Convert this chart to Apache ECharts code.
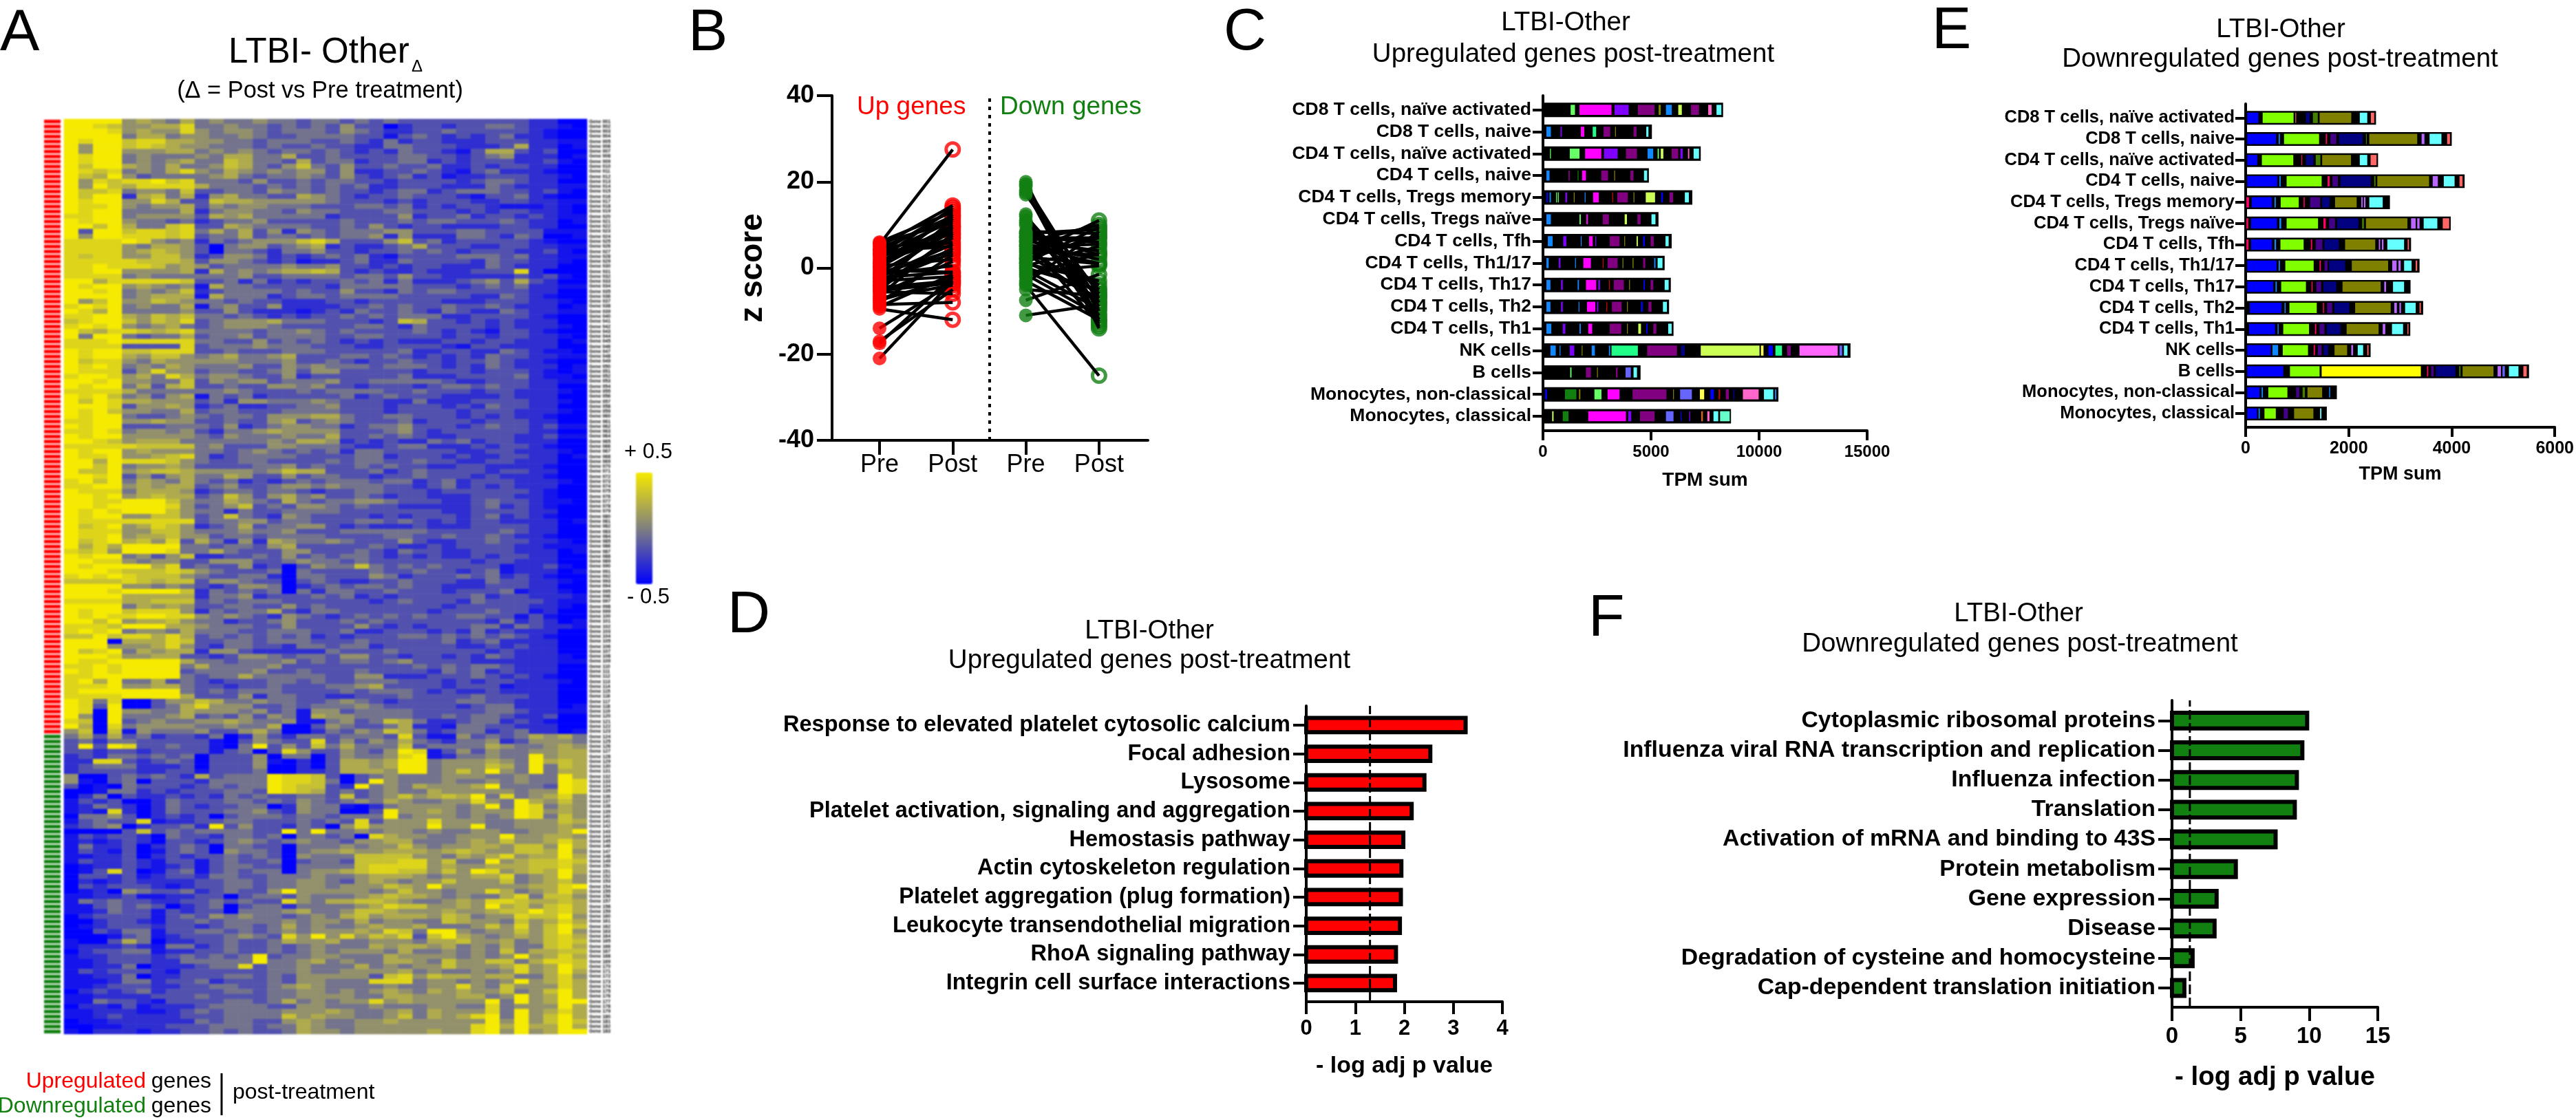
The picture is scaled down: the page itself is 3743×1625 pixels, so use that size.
<!DOCTYPE html>
<html><head><meta charset="utf-8">
<style>html,body{margin:0;background:#fff}#a,#c{position:absolute;left:0;top:0;width:3743px;height:1625px}#a{filter:blur(1.2px)}</style>
<script src="https://cdn.jsdelivr.net/npm/echarts@6/dist/echarts.min.js"></script>
</head><body><div id="a"></div><div id="c"></div>
<script>
// Panel A: estimated cell levels, 0 (blue) to 9 (yellow), one string per gene, one digit per sample
const heatUp = [
"9999 56546 4544544 344343433 33333332 200","9987 55668 4454434 343533023 32334432 210","9998 56558 5455434 443543223 34333332 100","9999 46645 5445433 444433134 32323422 100",
"9899 78866 5544344 433432423 32223332 211","9599 78765 5444343 343322443 33222362 201","9599 55566 4545434 434323243 32136632 300","9899 45444 5466446 334333344 33234522 201",
"9899 45456 4476443 634423344 23233322 310","9799 65464 4576435 743533433 42232332 200","9878 45468 5465454 553522334 32134222 100","9769 53444 4564344 543532342 31223332 210",
"9587 88978 4443533 434433233 33234432 200","9597 68888 6444343 434342233 32224322 211","9778 45547 3344354 434332344 23444332 310","9799 26746 2564433 654323343 33213342 100",
"9899 55863 3766555 554333232 33322332 211","9889 54556 3545544 433344342 32332111 210","9899 44446 2455443 544333443 33232332 210","8899 45555 3656444 442333352 33423323 211",
"9899 54434 2344533 333433343 44333432 201","9979 64478 3365444 433435323 32222332 200","9399 78878 4646352 543444553 33443333 111","9599 88878 3446344 343445252 22443243 001",
"8888 98545 2434555 786333573 42333332 100","8888 54665 3045534 562322346 33322332 211","8888 56765 3044324 453323343 43233322 310","8788 55775 2355423 234342133 33444342 211",
"8888 87776 3554323 122342243 33324332 210","8898 88756 5344445 445332323 32224322 200","8899 55556 2645456 676323223 22233382 000","8888 45444 4445334 444344353 32222232 310",
"9968 88887 3342423 233434242 22345363 200","9899 56545 1644333 332444443 33234342 211","9989 45457 2344443 433533243 44333332 200","9999 45666 1644423 443444433 33322432 100",
"9579 55765 4434332 223323333 32223332 210","8989 45446 1453352 222334343 34334322 201","9869 44445 3353222 123243343 24322432 211","8899 65767 4434323 233434344 42233332 100",
"7899 75768 3455564 443332376 33232322 200","8989 54564 3455543 333344324 33332322 210","9768 87678 4444344 543433334 32321332 100","9499 43446 3445344 443344333 32332332 210",
"8889 88888 4433534 343232322 23323322 201","8888 33338 3444544 433322333 32133222 200","9899 77888 3343334 443333342 23322432 110","9899 65775 4564456 333443432 32324332 211",
"9788 54655 5554445 334323343 32334322 100","9898 45465 4445335 454443444 32324322 201","9888 35855 3443345 355333332 33323332 101","8998 56486 4554335 233333342 22333342 110",
"9989 55447 3545534 445334444 43223332 211","9899 46367 3343355 453323332 34434332 200","8888 64444 4454333 434444334 33323322 210","9897 45356 1434233 333423433 32222322 200",
"9798 66555 3425544 454333224 22233332 210","9998 35565 2342233 445333233 32324332 200","9897 55446 3443334 444333233 33233322 210","9899 43345 4344355 566433443 33232322 100",
"8899 55655 3343356 345433342 33323332 200","9899 33344 4352345 544234453 33234332 311","8898 45545 3244565 555333453 23333332 200","9899 55555 4354445 446334343 22333322 311",
"9987 56664 4444454 665232322 43423322 200","8888 87777 4533355 444322344 22232332 100","9899 56555 4434543 434244333 33223322 210","9889 55678 4234444 333344233 32322332 201",
"9969 88875 4334433 334344334 33223322 200","9979 45565 3333445 343343433 22332222 100","9779 56776 5555457 663334234 33332332 200","9989 35356 4465335 344332334 33323222 100",
"8979 46546 4342323 434443442 34233322 210","8899 56566 3453345 545444332 34232322 200","9888 46665 2344344 323344333 23333332 100","9989 56766 3475356 453343233 22233322 100",
"9988 99975 4465436 434455433 32234332 110","9989 99985 3457343 554343322 22234232 100","9898 99975 4424334 444333333 32233332 200","9899 55775 3474325 433332323 33234232 100",
"9888 88888 3445534 433344343 23233222 201","9789 56875 2346344 553232223 22233332 200","9888 55775 4445445 333444444 33333432 200","9889 56675 5344344 443333443 34334322 100",
"9789 67583 6425265 445433353 22334332 210","9686 99994 4344356 333334322 32333322 111","8785 99984 4643335 533343243 32233322 201","9899 45357 2233435 343443232 32232332 200",
"9988 54553 3555334 544343333 33323322 200","9899 99683 4335230 354474343 43333122 310","9998 77787 5433340 433334334 33234122 201","8989 87775 4334420 443335423 33434232 100",
"7777 87677 3554330 343223343 33224332 210","9999 55454 3235540 234344343 32223332 200","9998 99997 2434340 424433433 32333412 210","9999 66666 2445233 343423233 33342332 221",
"8888 66777 3434443 333332343 33243333 211","9999 46565 3344335 343333333 32333332 210","9899 78885 2434463 244333333 23334331 200","9898 89988 5454325 432343434 33443313 100",
"9979 56675 4423345 333434333 33332423 201","8887 99966 5444335 333353232 33344243 221","8989 45546 4443344 433422333 23242322 200","7797 88686 3434343 423233344 34343432 100",
"9990 66687 3344344 433343333 34234222 200","9995 55685 3244332 443442333 33223232 200","9789 46566 2553222 224333433 33332322 200","9998 55663 3235543 443553323 32324322 210",
"9889 99996 4434445 343443453 33322222 211","8898 99994 6444453 333333334 34344322 200","9898 99993 4444533 433343333 24342322 200","8899 99994 3446444 443355222 33343232 100",
"8969 44634 3233344 343344433 32323322 210","8889 55664 3323343 334456333 32333122 200","8999 99994 3434443 333434443 23223222 200","8888 99996 3335244 332233343 33343332 200",
"9848 00355 7644544 334543233 33443322 200","9839 00346 8555334 344454333 33234422 201","9809 55446 5554534 155344443 33334432 211","9509 44456 3435354 165544443 34344322 300",
"8709 34544 5565445 114534764 22344232 100","9608 45555 4454460 035433462 21443322 200","5707 15444 5335640 024354764 23442342 201"
];
const heatDown = [
"4636 34233 2402532 443444383 11534346 564","3424 43333 3103543 383535464 32445235 554","3939 83343 3104935 374644473 44446544 565","3323 32333 3134038 533543598 13535445 566",
"2324 43434 0333504 403544589 12445449 566","2288 32343 0333510 203665699 45556549 676","2344 42223 0333500 203665699 45557649 476","2333 32233 1333400 223666599 45759549 466",
"5003 43432 6344498 873034544 45554454 496","5103 40333 2444498 874039544 45445454 498","3010 43332 3434498 773294546 55569444 398","0014 42323 3344398 763434544 65555545 598",
"0240 32232 3243433 443734575 67694845 685","1323 00243 3344343 543454654 45585496 575","1243 20243 2334402 544102455 55459498 465","1218 20243 3344532 544003955 65455598 565",
"0445 30232 3034443 443444945 55454598 475","1343 38122 3344333 434383555 85554455 576","2345 02334 2935332 430585555 95594455 565","0000 37343 4444339 494454554 54455445 569",
"1323 32043 3244340 443408655 44555955 665","1212 32033 2345434 544355664 44565755 686","1422 30234 3044330 444545575 45566577 596","1321 30134 3054430 455655666 56765577 695",
"1122 30232 3343430 544477775 54656856 696","1322 32133 1343340 344377788 57449567 787","0122 32123 1344330 444478888 56556667 786","0138 30134 1343440 455678877 57598567 696",
"0332 31233 2443344 454456665 45566845 695","0212 32222 3344344 554356545 57555745 675","0323 33212 3344344 554555765 95555556 689","0120 54334 2343359 555554575 54558645 686",
"1122 31122 3303443 544456766 54544684 775","1434 33223 3434338 546677654 45658876 676","1134 34302 3403442 444456877 55659675 786","1124 33132 3304445 644577655 56556779 786",
"0233 33134 3545443 454675666 57645587 795","0023 32133 4344445 455464554 47655475 686","0123 33233 2344346 454456556 44457585 797","0032 44133 4434345 455565874 99545575 795",
"0001 34123 3345438 595857683 79654565 786","1003 64022 3343346 556445554 66755645 787","1222 32144 2343343 454446566 56454644 786","0233 44122 3343343 454555464 45454746 677",
"1223 33234 3434934 455444655 55454595 686","1123 33224 4444944 564544665 47557746 887","1122 40222 3448344 544464545 57555685 697","1323 33213 3333344 544555564 54454585 696",
"1122 40223 3344343 555553785 76656644 685","1112 44233 4233343 554448884 55454595 686","1123 33223 3443345 654444544 55854755 586","0232 34233 3344344 554545654 65655745 796",
"1122 22333 4333344 555544665 55664595 696","1143 32133 3344346 454558565 55559495 699","0221 31222 3444433 554445444 55448455 596","1122 21123 4344445 556544564 65558495 686",
"1123 22223 3344447 565544574 65689495 796","0112 22222 4344335 654455655 55559595 797","0011 22233 3444344 654455555 55589696 696","1022 21223 3434334 655455555 65589595 699"
];
// Panel A: what each digit level stands for on the -0.5 to +0.5 scale
const heatLevels = [-0.5,-0.42,-0.32,-0.18,-0.05,0.08,0.2,0.3,0.4,0.5];
const heatLabels = [...heatUp, ...heatDown].map((_, i) => "Gene " + String(i + 1).padStart(3, "0"));

// Panel B: z scores, one pre/post pair per position
const upPre  = [6,5.8,5.5,5,4.5,4.2,4,3.5,3.2,3,2.5,2,1.5,1.2,1,0.5,0.2,0,-0.5,-1,-1.2,-1.5,-2,-2.2,-2.5,-3,-3.2,-3.5,-4,-4.2,-4.5,-5,-5.2,-5.5,-6,-6.5,-7,-7.5,-8,-8.5,-9,-9.5,-14,-17,-17.5,-21];
const upPost = [13,10.5,27.5,14.5,12,8,5,13.5,6,11,9,14,7,12,10,2,9.5,12.5,-1,8.5,4,0.5,5.5,-1,9.5,-2,3.5,4.5,11.5,7,-3,7.5,-3.5,-6,1.5,8,-4,-2.5,3,-8,-1.5,-12,-3.5,-5,-2,-3];
const downPre  = [20,19.5,19,18,17.5,17,12.5,12,11,10.5,10,8.5,8.2,8,7.5,7.2,7,6.5,6.2,6,5.5,5.2,5,4.5,4,3.5,3,2.5,2.2,2,1.5,1.2,1,0.5,0,-0.5,-1,-1.5,-2,-3,-3.5,-4,-5,-7.5,-11];
const downPost = [-14,-12,-8,-13.5,-10,-6,-12.5,-7,-11,-5,-9,8,3,9,-4,6,7,-13,4,10,2,1,5.5,-6,3,-8,11,1,7,7.5,-7,9.5,-3,5,-5,-9.5,0.5,-11,3.5,-12,8.5,-25,-6.5,-1.5,-8.5];
const prePostLabels = ["Pre","Post","Pre","Post"];

// Panels C and E: TPM sum per cell type, with the visible coloured stack blocks [from, to, colour key]
const cellTypes = ["CD8 T cells, naïve activated","CD8 T cells, naive","CD4 T cells, naïve activated","CD4 T cells, naive","CD4 T cells, Tregs memory","CD4 T cells, Tregs naïve","CD4 T cells, Tfh","CD4 T cells, Th1/17","CD4 T cells, Th17","CD4 T cells, Th2","CD4 T cells, Th1","NK cells","B cells","Monocytes, non-classical","Monocytes, classical"];
const upTotals = [8335,5040,7300,4900,6910,5345,5955,5630,5915,5835,6040,14230,4515,10895,8700];
const upBlocks = [
 [[1280,1480,"lm"],[1690,3170,"mg"],[3310,3965,"pu"],[4390,5165,"dm"],[5350,5450,"ol"],[5690,5960,"sk"],[6260,6425,"yg"],[6850,7220,"dm"],[7645,7805,"pk"],[8030,8255,"cy"]],
 [[160,365,"sk"],[810,870,"pu"],[1750,1910,"mg"],[2300,2460,"sg"],[2805,3110,"dm"],[3335,3375,"ol"],[4190,4330,"dm"],[4780,4880,"cy"]],
 [[325,365,"lm"],[1240,1690,"lm"],[1950,2700,"mg"],[2825,3455,"pu"],[3840,4350,"dm"],[4840,5100,"sk"],[5305,5365,"lm"],[5450,5570,"yg"],[5955,6260,"dm"],[6360,6465,"pu"],[6710,6770,"pk"],[6970,7220,"cy"]],
 [[160,305,"sk"],[1180,1240,"dm"],[1605,1645,"gr"],[1810,1990,"mg"],[2700,3010,"dm"],[3295,3335,"ol"],[4045,4190,"dm"],[4675,4820,"cy"]],
 [[160,225,"bl"],[305,365,"sk"],[610,650,"lm"],[690,730,"lm"],[1035,1115,"pu"],[1425,1465,"ol"],[1930,1970,"sk"],[2320,2580,"mg"],[3210,3250,"rd"],[3435,3925,"dm"],[4190,4230,"ol"],[4755,5185,"yg"],[5470,5550,"bl"],[5855,6020,"dm"],[6565,6750,"cy"]],
 [[160,365,"sk"],[1690,1750,"lm"],[2010,2075,"mg"],[2765,3050,"dm"],[3780,3885,"yg"],[4370,4515,"dm"],[5020,5205,"cy"]],
 [[225,445,"sk"],[935,1080,"pu"],[1750,1790,"sk"],[2135,2300,"mg"],[2420,2460,"pu"],[3090,3540,"dm"],[3760,3800,"ol"],[4330,4390,"yg"],[4635,4715,"bl"],[4980,5125,"dm"],[5670,5815,"cy"]],
 [[160,265,"sk"],[730,810,"pu"],[1485,1525,"sk"],[1870,2215,"mg"],[2765,2805,"rd"],[2990,3455,"dm"],[3680,3720,"ol"],[4145,4190,"ol"],[4635,4735,"dm"],[5145,5205,"sk"],[5305,5530,"cy"]],
 [[160,345,"sk"],[835,915,"pu"],[1605,1665,"sk"],[1990,2460,"mg"],[2560,2640,"pu"],[3050,3090,"rd"],[3275,3740,"dm"],[3985,4025,"ol"],[4655,4715,"bl"],[4980,5105,"dm"],[5630,5815,"cy"]],
 [[160,345,"sk"],[835,915,"pu"],[1645,1685,"sk"],[2035,2420,"mg"],[2500,2560,"pu"],[2930,2970,"rd"],[3190,3640,"dm"],[3885,3925,"ol"],[4535,4615,"bl"],[4880,5020,"dm"],[5550,5735,"cy"]],
 [[160,385,"sk"],[915,1035,"pu"],[1690,1750,"sk"],[2095,2275,"mg"],[3090,3620,"dm"],[3885,3925,"ol"],[4410,4535,"yg"],[4780,4840,"bl"],[5105,5245,"dm"],[5795,5955,"cy"]],
 [[345,590,"sk"],[770,810,"sk"],[1240,1445,"pu"],[1790,1830,"ol"],[2255,2400,"sk"],[3050,3110,"sk"],[3170,4390,"sg"],[4820,6200,"dm"],[6385,6565,"nv"],[7300,10020,"yg"],[10085,10205,"ye"],[10430,10635,"bl"],[10755,11060,"sg"],[11300,11465,"dm"],[11870,13640,"pn"],[13720,13845,"pw"],[13925,14090,"cy"]],
 [[1260,1320,"lm"],[1990,2215,"dm"],[2500,2540,"ol"],[3375,3455,"dm"],[3820,4065,"pw"],[4190,4350,"cy"]],
 [[100,185,"bl"],[1015,1545,"gr"],[1665,1730,"ol"],[2380,2705,"lm"],[2990,3540,"mg"],[4145,5715,"dm"],[6020,6060,"ol"],[6345,6890,"pw"],[7260,7460,"ye"],[7745,7910,"bl"],[8130,8195,"rd"],[8460,8600,"dm"],[8805,8865,"nv"],[9250,9980,"pk"],[10225,10655,"cy"],[10735,10795,"sk"]],
 [[425,490,"yg"],[915,1180,"gr"],[2095,3840,"mg"],[3945,4085,"pu"],[4490,5165,"dm"],[5690,6040,"pw"],[6365,6405,"bl"],[6770,6810,"pu"],[7320,7400,"or"],[7605,7705,"pk"],[7890,8110,"cy"],[8195,8640,"mt"]]
];
const downTotals = [2530,4000,2570,4250,2800,3980,3210,3375,3200,3445,3195,2425,5500,1770,1575];
const downBlocks = [
 [[30,245,"bl"],[330,930,"ll"],[965,980,"sa"],[1170,1240,"nv"],[1305,1400,"eg"],[1435,2050,"ol"],[2215,2360,"cy"],[2430,2495,"sa"]],
 [[30,590,"bl"],[640,665,"sk"],[745,1425,"ll"],[1555,1580,"cr"],[1645,1760,"dp"],[1810,2270,"nv"],[2335,2350,"eg"],[2400,3330,"ol"],[3415,3470,"vi"],[3570,3800,"cy"],[3910,3965,"sa"]],
 [[30,225,"bl"],[315,925,"ll"],[1080,1095,"cr"],[1170,1315,"nv"],[1360,1450,"eg"],[1485,2045,"ol"],[2215,2360,"cy"],[2425,2540,"sa"]],
 [[30,615,"bl"],[655,680,"sk"],[795,1475,"ll"],[1590,1630,"cr"],[1685,1790,"dp"],[1840,2425,"nv"],[2495,2520,"eg"],[2555,3560,"ol"],[3630,3730,"vi"],[3845,4055,"cy"],[4150,4210,"sa"]],
 [[15,65,"cr"],[115,510,"bl"],[560,585,"sk"],[680,1030,"ll"],[1125,1145,"cr"],[1250,1445,"dp"],[1485,1630,"nv"],[1735,2155,"ol"],[2245,2270,"vi"],[2295,2325,"vi"],[2400,2660,"cy"]],
 [[15,50,"cr"],[105,610,"bl"],[655,690,"sk"],[795,1405,"ll"],[1510,1555,"cr"],[1620,1735,"dp"],[1775,2190,"nv"],[2260,2295,"eg"],[2335,3140,"ol"],[3210,3300,"vi"],[3330,3375,"vi"],[3455,3720,"cy"],[3825,3950,"sa"]],
 [[15,55,"cr"],[105,510,"bl"],[560,590,"sk"],[675,1125,"ll"],[1265,1290,"cr"],[1360,1490,"dp"],[1525,1810,"nv"],[1930,2515,"ol"],[2585,2610,"vi"],[2645,2675,"vi"],[2750,3075,"cy"],[3145,3170,"sa"]],
 [[30,600,"bl"],[640,665,"sk"],[770,1320,"ll"],[1435,1460,"cr"],[1530,1590,"dp"],[1620,1930,"nv"],[2060,2765,"ol"],[2845,2930,"vi"],[2965,3010,"vi"],[3075,3220,"cy"],[3300,3330,"sa"]],
 [[30,535,"bl"],[580,605,"sk"],[690,1170,"ll"],[1280,1300,"cr"],[1370,1465,"dp"],[1510,1760,"nv"],[1880,2620,"ol"],[2690,2725,"vi"],[2860,3075,"cy"]],
 [[80,695,"bl"],[755,775,"sk"],[850,1380,"ll"],[1500,1520,"cr"],[1580,1680,"dp"],[1720,2010,"nv"],[2125,2815,"ol"],[2885,2935,"vi"],[2985,3015,"vi"],[3095,3300,"cy"],[3375,3400,"sa"]],
 [[65,570,"bl"],[620,640,"sk"],[730,1230,"ll"],[1345,1370,"cr"],[1435,1530,"dp"],[1575,1840,"nv"],[1960,2580,"ol"],[2660,2710,"vi"],[2840,3055,"cy"],[3140,3160,"sa"]],
 [[30,485,"bl"],[520,630,"sk"],[720,1210,"ll"],[1320,1345,"cr"],[1400,1475,"dp"],[1515,1600,"nv"],[1725,1970,"ol"],[2050,2085,"vi"],[2175,2280,"cy"],[2360,2385,"sa"]],
 [[30,730,"bl"],[860,1435,"ll"],[1475,3400,"yy"],[3520,3545,"cr"],[3600,3650,"dp"],[3690,4070,"nv"],[4145,4170,"eg"],[4210,4810,"ol"],[4890,4955,"vi"],[4985,5030,"pw"],[5110,5295,"cy"],[5390,5455,"sa"]],
 [[30,270,"bl"],[310,335,"sk"],[440,810,"ll"],[980,1040,"dp"],[1105,1150,"eg"],[1200,1485,"ol"],[1620,1640,"sk"]],
 [[30,220,"bl"],[250,275,"sk"],[365,585,"ll"],[740,820,"dp"],[940,1315,"ol"],[1445,1470,"cy"]]
];

// Panels D and F: pathway enrichment
const upPathways = ["Response to elevated platelet cytosolic calcium","Focal adhesion","Lysosome","Platelet activation, signaling and aggregation","Hemostasis pathway","Actin cytoskeleton regulation","Platelet aggregation (plug formation)","Leukocyte transendothelial migration","RhoA signaling pathway","Integrin cell surface interactions"];
const upLogP = [3.25,2.53,2.41,2.15,1.98,1.94,1.93,1.91,1.83,1.81];
const upThreshold = 1.3;
const downPathways = ["Cytoplasmic ribosomal proteins","Influenza viral RNA transcription and replication","Influenza infection","Translation","Activation of mRNA and binding to 43S","Protein metabolism","Gene expression","Disease","Degradation of cysteine and homocysteine","Cap-dependent translation initiation"];
const downLogP = [9.85,9.5,9.1,8.95,7.55,4.65,3.25,3.1,1.5,0.9];
const downThreshold = 1.3;

const RED = "#ff0000", GREEN = "#118011", FONT = "Liberation Sans";
const palette = {bl:"#0000ff",sk:"#1188ff",lm:"#66ff66",mg:"#ff00ff",pu:"#8000ff",dm:"#800080",ol:"#808000",yg:"#ccff55",pk:"#ff66cc",cy:"#66ffff",gr:"#118011",sg:"#22ff88",rd:"#cc0000",pw:"#6666ff",ye:"#ffff55",nv:"#000080",or:"#cc6622",mt:"#66ffcc",pn:"#ff66ff",ll:"#80ff00",yy:"#ffff00",vi:"#bb66ff",sa:"#ff6666",cr:"#ff0066",dp:"#440088",eg:"#448000"};

const axisLine = w => ({show:true,onZero:false,lineStyle:{color:"#000",width:w}});

function xVal(gridIndex,max,interval,name,fs,margin,nameFs,nameGap,tick){
  return {type:"value",gridIndex,min:0,max,interval,name,nameLocation:"middle",nameGap,
    nameTextStyle:{fontSize:nameFs,fontWeight:"bold",color:"#000",fontFamily:FONT},
    axisLine:axisLine(4),axisTick:{show:true,length:tick,lineStyle:{color:"#000",width:4}},
    splitLine:{show:false},axisLabel:{fontSize:fs,fontWeight:"bold",color:"#000",margin,fontFamily:FONT,formatter:v=>String(v)}};
}
function yCat(gridIndex,cats,minV,maxV,fs,margin,tick){
  const n = cats.length, vals = cats.map((_,i)=>i);
  return {type:"value",gridIndex,min:minV,max:maxV,
    axisLine:axisLine(4),splitLine:{show:false},
    axisTick:{show:true,length:tick,customValues:vals,lineStyle:{color:"#000",width:4}},
    axisLabel:{fontSize:fs,fontWeight:"bold",color:"#000",margin,fontFamily:FONT,customValues:vals,formatter:v=>cats[n-1-Math.round(v)]}};
}
function rectSeries(idx,data,frac,styleOf,z){
  return {type:"custom",xAxisIndex:idx,yAxisIndex:idx,z,silent:true,clip:false,data:data.map(d=>[d.y,d.a,d.b]),
    encode:{x:[1,2],y:0},
    renderItem:(p,api)=>{
      const y=api.value(0),s=api.coord([api.value(1),y]),e=api.coord([api.value(2),y]),h=api.size([0,1])[1]*frac;
      return {type:"rect",shape:{x:s[0],y:s[1]-h/2,width:e[0]-s[0],height:h},style:styleOf(data[p.dataIndex])};
    }};
}
function stacked(idx,totals,blocks,outer,inner){
  const n=totals.length;
  const back=totals.map((t,i)=>({y:n-1-i,a:0,b:t}));
  const front=[];blocks.forEach((r,i)=>r.forEach(b=>front.push({y:n-1-i,a:b[0],b:b[1],c:b[2]})));
  return [rectSeries(idx,back,outer,()=>({fill:"#000"}),2),rectSeries(idx,front,inner,d=>({fill:palette[d.c]}),3)];
}
function enrich(idx,vals,color,frac){
  const n=vals.length;
  return rectSeries(idx,vals.map((v,i)=>({y:n-1-i,a:0,b:v})),frac,()=>({fill:color,stroke:"#000",lineWidth:6}),2);
}
function thresh(idx,v,lo,hi){
  return {type:"line",xAxisIndex:idx,yAxisIndex:idx,z:5,silent:true,showSymbol:false,data:[[v,lo],[v,hi]],lineStyle:{color:"#000",width:3,type:[14,5]}};
}
const txt=(text,x,y,size,o={})=>({type:"text",silent:true,style:Object.assign({text,x,y,fill:"#000",font:`${o.weight||"normal"} ${size}px "${FONT}"`,textAlign:o.align||"left",textVerticalAlign:"middle"},o.color?{fill:o.color}:{})});

const heatData=[];
[...heatUp,...heatDown].forEach((row,r)=>row.replace(/ /g,"").split("").forEach((d,c)=>heatData.push([c,r,heatLevels[+d]])));
const nCols=heatUp[0].replace(/ /g,"").length;

const pairLines=(pre,post,off)=>pre.map((v,i)=>({type:"line",xAxisIndex:0,yAxisIndex:0,z:3,silent:true,showSymbol:false,data:[[off,v],[off+1,post[i]]],lineStyle:{color:"#000",width:4.5}}));
const dots=(vals,x,color,hollow)=>({type:"scatter",xAxisIndex:0,yAxisIndex:0,z:hollow?2:4,silent:true,symbol:"circle",symbolSize:hollow?19:20,
  data:vals.map(v=>[x,v]),itemStyle:hollow?{color:"rgba(255,255,255,0)",borderColor:color,borderWidth:5}:{color}});

const heatOption={
  animation:false,textStyle:{fontFamily:FONT},
  grid:[{left:93,top:173,width:760,height:1330},{left:64,top:173,width:24,height:1330}],
  visualMap:{type:"continuous",seriesIndex:0,dimension:2,min:-0.5,max:0.5,calculable:false,left:909,top:672,itemWidth:24,itemHeight:162,showLabel:false,
    inRange:{color:["#0000ff","#808080","#f5ea00"]},textStyle:{fontSize:1,color:"transparent"}},
  xAxis:[
    {type:"category",gridIndex:0,show:false,data:Array.from({length:nCols},(_,i)=>i)},
    {type:"value",gridIndex:1,show:false,min:0,max:1}
  ],
  yAxis:[
    {type:"category",gridIndex:0,inverse:true,position:"right",data:heatLabels,axisLine:{show:false},axisTick:{show:false},
      axisLabel:{interval:0,fontSize:7,fontWeight:"bold",margin:3,color:"#000",fontFamily:FONT}},
    {type:"category",gridIndex:1,inverse:true,show:false,data:heatLabels}
  ],
  series:[
    {type:"heatmap",xAxisIndex:0,yAxisIndex:0,data:heatData,progressive:0,silent:true,emphasis:{disabled:true}},
    {type:"bar",xAxisIndex:1,yAxisIndex:1,silent:true,barCategoryGap:"28%",barGap:"-100%",itemStyle:{color:RED},data:[...heatUp.map(()=>1),...heatDown.map(()=>"-")]},
    {type:"bar",xAxisIndex:1,yAxisIndex:1,silent:true,barCategoryGap:"28%",barGap:"-100%",itemStyle:{color:GREEN},data:[...heatUp.map(()=>"-"),...heatDown.map(()=>1)]}
  ]
};

const option={
  animation:false,backgroundColor:"transparent",textStyle:{fontFamily:FONT},
  grid:[
    {left:1209,top:139,width:459,height:501},
    {left:2242,top:139,width:471,height:487},
    {left:3263,top:151,width:453,height:470},
    {left:1898,top:1026,width:285,height:430},
    {left:3156,top:1018,width:299,height:446}
  ],
  xAxis:[
    {type:"value",gridIndex:0,min:-0.649,max:3.669,axisLine:axisLine(4),splitLine:{show:false},
      axisTick:{show:true,length:21,customValues:[0,1,2,3],lineStyle:{color:"#000",width:4}},
      axisLabel:{fontSize:36,color:"#000",margin:18,fontFamily:FONT,customValues:[0,1,2,3],formatter:v=>prePostLabels[Math.round(v)]}},
    xVal(1,15000,5000,"TPM sum",24,19,28,58,14),
    xVal(2,6000,2000,"TPM sum",25,19,27,55,14),
    xVal(3,4,1,"- log adj p value",31,24,34,77,18),
    xVal(4,15,5,"- log adj p value",33,26,38.5,83,20)
  ],
  yAxis:[
    {type:"value",gridIndex:0,min:-40,max:40,interval:20,name:"z score",nameLocation:"middle",nameGap:92,nameRotate:90,
      nameTextStyle:{fontSize:46,fontWeight:"bold",color:"#000",fontFamily:FONT},
      axisLine:axisLine(4),splitLine:{show:false},axisTick:{show:true,length:22,lineStyle:{color:"#000",width:4}},
      axisLabel:{fontSize:36,fontWeight:"bold",color:"#000",margin:26,fontFamily:FONT}},
    yCat(1,cellTypes,-0.66,14.65,26.5,17,15),
    yCat(2,cellTypes,-0.65,14.66,25.5,16,15),
    yCat(3,upPathways,-0.65,9.67,32.5,23,19),
    yCat(4,downPathways,-0.65,9.68,33.8,24,20)
  ],
  series:[
    ...pairLines(upPre,upPost,0),...pairLines(downPre,downPost,2),
    dots(upPre,0,RED,false),dots(upPost,1,RED,true),dots(downPre,2,GREEN,false),dots(downPost,3,GREEN,true),
    {type:"line",xAxisIndex:0,yAxisIndex:0,z:3,silent:true,showSymbol:false,data:[[1.505,-40],[1.505,40]],lineStyle:{color:"#000",width:4,type:[5,7]}},
    ...stacked(1,upTotals,upBlocks,0.66,0.46),
    ...stacked(2,downTotals,downBlocks,0.65,0.49),
    enrich(3,upLogP,RED,0.5),thresh(3,upThreshold,-0.65,9.67),
    enrich(4,downLogP,GREEN,0.53),thresh(4,downThreshold,-0.65,9.68)
  ],
  graphic:[
    txt("A",0,49,86),txt("B",1000,49,86),txt("C",1778,48,86),txt("D",1057,895,86),txt("E",2807,46,86),txt("F",2308,900,86),
    txt("LTBI- Other",332,77,51),txt("Δ",598,97,24),txt("(Δ = Post vs Pre treatment)",465,133,34.4,{align:"center"}),
    txt("+ 0.5",942,657,31,{align:"center"}),txt("- 0.5",942,868,31,{align:"center"}),
    txt("Upregulated",212,1572,32,{align:"right",color:RED}),txt("genes",307,1572,32,{align:"right"}),
    txt("Downregulated",212,1608,32,{align:"right",color:GREEN}),txt("genes",307,1608,32,{align:"right"}),
    {type:"rect",silent:true,shape:{x:320.5,y:1560,width:3,height:61},style:{fill:"#000"}},
    txt("post-treatment",338,1588,32),
    txt("Up genes",1245,156,37,{color:RED}),txt("Down genes",1453,156,37,{color:GREEN}),
    txt("LTBI-Other",2275,33,38.5,{align:"center"}),txt("Upregulated genes post-treatment",2286,79,38.5,{align:"center"}),
    txt("LTBI-Other",3314,43,38.5,{align:"center"}),txt("Downregulated genes post-treatment",3313,86,38.5,{align:"center"}),
    txt("LTBI-Other",1670,917,38.5,{align:"center"}),txt("Upregulated genes post-treatment",1670,960,38.5,{align:"center"}),
    txt("LTBI-Other",2933,892,38.5,{align:"center"}),txt("Downregulated genes post-treatment",2935,936,38.5,{align:"center"})
  ]
};
echarts.init(document.getElementById("a")).setOption(heatOption);
echarts.init(document.getElementById("c")).setOption(option);
</script></body></html>
